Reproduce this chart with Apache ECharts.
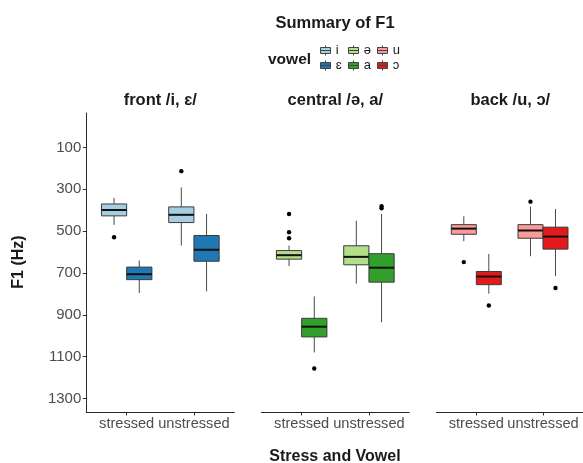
<!DOCTYPE html>
<html><head><meta charset="utf-8">
<script src="https://cdn.jsdelivr.net/npm/echarts@6/dist/echarts.min.js"></script>
<style>html,body{margin:0;padding:0;background:#fff}#c{width:583px;height:463px}</style>
</head><body><div id="c"></div>
<script>
// ---- data ----
const stressCats = ['stressed', 'unstressed'];
const facetTitles = ['front /i, ɛ/', 'central /ə, a/', 'back /u, ɔ/'];
const vowels = ['i', 'ɛ', 'ə', 'a', 'u', 'ɔ'];
const vowelColors = ['#a6cee3', '#1f78b4', '#b2df8a', '#33a02c', '#fb9a99', '#e31a1c'];
const yTicks = [100, 300, 500, 700, 900, 1100, 1300];
// box stats per stress category: [lower whisker, Q1, median, Q3, upper whisker]
const box_i = [[341, 370, 399, 427, 470], [291, 384, 422, 459, 569]];
const box_E = [[640, 672, 706, 732, 796], [418, 521, 589, 644, 788]];
const box_schwa = [[569, 593, 615, 634, 667], [450, 570, 623, 661, 751]];
const box_a = [[812, 917, 957, 1006, 1080], [418, 608, 675, 744, 936]];
const box_u = [[429, 469, 488, 515, 548], [383, 469, 497, 534, 620]];
const box_O = [[609, 693, 717, 756, 799], [394, 481, 526, 586, 715]];
// outliers per stress category
const out_i = [[529], [213]];
const out_E = [[], []];
const out_schwa = [[418, 505, 534], []];
const out_a = [[1157], [381, 391]];
const out_u = [[648], [359]];
const out_O = [[856], [772]];

const boxes = [box_i, box_E, box_schwa, box_a, box_u, box_O];
const outs = [out_i, out_E, out_schwa, out_a, out_u, out_O];

// ---- layout ----
const FONT = "'Liberation Sans', Arial, sans-serif";
const BOXW = 0.375, DODGE = 0.1875;
const panelLeft = [86.3, 261.3, 436.3];
const panelW = 148, gridTop = 113, gridH = 299;

const grids = [], xAxes = [], yAxes = [], series = [];
for (let f = 0; f < 3; f++) {
  grids.push({left: panelLeft[f], top: gridTop, width: panelW, height: gridH, containLabel: false});
  xAxes.push({
    gridIndex: f, type: 'value', min: 0.4, max: 2.6, position: 'bottom',
    axisLine: {show: true, onZero: false, lineStyle: {color: '#2a2a2a', width: 1}},
    axisTick: {show: true, customValues: [1, 2], length: 3.5, lineStyle: {color: '#333'}},
    axisLabel: {show: true, customValues: [1, 2], margin: 4, color: '#4d4d4d', fontSize: 14.6, fontFamily: FONT,
      formatter: v => stressCats[Math.round(v) - 1]},
    splitLine: {show: false}
  });
  yAxes.push({
    gridIndex: f, type: 'value', inverse: true, min: -65, max: 1365, position: 'left',
    show: f === 0,
    axisLine: {show: true, onZero: false, lineStyle: {color: '#2a2a2a', width: 1}},
    axisTick: {show: true, customValues: yTicks, length: 3.5, lineStyle: {color: '#333'}},
    axisLabel: {show: true, customValues: yTicks, margin: 5, color: '#4d4d4d', fontSize: 15, fontFamily: FONT,
      formatter: v => String(v)},
    splitLine: {show: false}
  });
}

function boxRenderer(dodge) {
  return function (params, api) {
    const xc = api.value(0) + (dodge === 0 ? -DODGE : DODGE);
    const w = api.size([BOXW, 0])[0];
    const lo = api.coord([xc, api.value(1)]);
    const q1 = api.coord([xc, api.value(2)]);
    const md = api.coord([xc, api.value(3)]);
    const q3 = api.coord([xc, api.value(4)]);
    const hi = api.coord([xc, api.value(5)]);
    const x = md[0];
    return {type: 'group', children: [
      {type: 'line', shape: {x1: x, y1: lo[1], x2: x, y2: q1[1]}, style: {stroke: '#4a4a4a', lineWidth: 1}},
      {type: 'line', shape: {x1: x, y1: q3[1], x2: x, y2: hi[1]}, style: {stroke: '#4a4a4a', lineWidth: 1}},
      {type: 'rect', shape: {x: x - w / 2, y: Math.min(q1[1], q3[1]), width: w, height: Math.abs(q3[1] - q1[1])},
        style: {fill: api.visual('color'), stroke: '#3a3a3a', lineWidth: 1}},
      {type: 'line', shape: {x1: x - w / 2, y1: md[1], x2: x + w / 2, y2: md[1]}, style: {stroke: '#111', lineWidth: 2}}
    ]};
  };
}
function outRenderer(dodge) {
  return function (params, api) {
    const xc = api.value(0) + (dodge === 0 ? -DODGE : DODGE);
    const p = api.coord([xc, api.value(1)]);
    return {type: 'circle', shape: {cx: p[0], cy: p[1], r: 2.2}, style: {fill: '#000'}};
  };
}

for (let v = 0; v < 6; v++) {
  const f = Math.floor(v / 2), dodge = v % 2;
  series.push({
    name: vowels[v], type: 'custom', xAxisIndex: f, yAxisIndex: f,
    itemStyle: {color: vowelColors[v]},
    renderItem: boxRenderer(dodge),
    encode: {x: 0, y: [1, 2, 3, 4, 5]},
    data: boxes[v].map((s, k) => [k + 1].concat(s)),
    silent: true
  });
  const od = [];
  outs[v].forEach((arr, k) => arr.forEach(val => od.push([k + 1, val])));
  series.push({
    name: vowels[v] + ' outliers', type: 'custom', xAxisIndex: f, yAxisIndex: f,
    renderItem: outRenderer(dodge), encode: {x: 0, y: 1}, data: od, silent: true
  });
}

// legend: 2 rows x 3 columns (column-major: i/ɛ, ə/a, u/ɔ)
const legendIcon = 'path://M5,0L5,2M0,2L10,2L10,8L0,8ZM0,5L10,5M5,8L5,10';
const legendColX = [320, 348, 377];
const legendRowY = [44, 59];
const legends = vowels.map((name, v) => ({
  orient: 'horizontal', left: legendColX[Math.floor(v / 2)], top: legendRowY[v % 2], padding: 0,
  itemWidth: 10.5, itemHeight: 10, icon: legendIcon, selectedMode: false,
  itemStyle: {borderColor: '#444', borderWidth: 1},
  textStyle: {fontSize: 13, color: '#1a1a1a', fontFamily: FONT},
  data: [name]
}));

const graphic = [
  {type: 'text', x: 268, y: 59.7, style: {text: 'vowel', font: 'bold 15.5px ' + FONT, fill: '#1a1a1a', align: 'left', verticalAlign: 'middle'}},
  {type: 'text', x: 335, y: 456.5, style: {text: 'Stress and Vowel', font: 'bold 16px ' + FONT, fill: '#1a1a1a', align: 'center', verticalAlign: 'middle'}},
  {type: 'text', x: 19, y: 262, rotation: Math.PI / 2, style: {text: 'F1 (Hz)', font: 'bold 16px ' + FONT, fill: '#1a1a1a', align: 'center', verticalAlign: 'middle'}}
];
facetTitles.forEach((t, f) => graphic.push({
  type: 'text', x: panelLeft[f] + panelW / 2, y: 100.5,
  style: {text: t, font: 'bold 16.5px ' + FONT, fill: '#1a1a1a', align: 'center', verticalAlign: 'middle'}
}));

const chart = echarts.init(document.getElementById('c'), null, {renderer: 'canvas'});
chart.setOption({
  backgroundColor: '#fff',
  animation: false,
  title: {text: 'Summary of F1', left: 335, top: 15, textAlign: 'center', padding: 0,
    textStyle: {fontSize: 16.5, fontWeight: 'bold', color: '#1a1a1a', fontFamily: FONT}},
  legend: legends,
  grid: grids, xAxis: xAxes, yAxis: yAxes, series: series, graphic: graphic
});
</script></body></html>
